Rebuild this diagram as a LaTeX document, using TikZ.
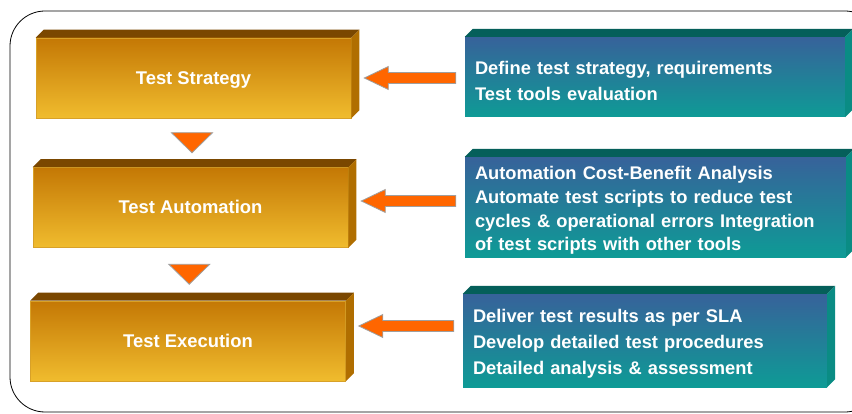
\documentclass[tikz,border=0pt]{standalone}
\usepackage{fontspec}
\setmainfont{Liberation Sans}
\usetikzlibrary{calc}

\definecolor{goldtop}{HTML}{C47805}
\definecolor{goldmid}{HTML}{DE9E1C}
\definecolor{goldbot}{HTML}{F0BC2E}
\definecolor{goldedge}{HTML}{D8A128}
\definecolor{goldlid}{HTML}{7A4700}
\definecolor{goldside}{HTML}{B06E00}
\definecolor{bluetop}{HTML}{37629A}
\definecolor{bluebot}{HTML}{0E9B96}
\definecolor{bluelid}{HTML}{055F5A}
\definecolor{blueside}{HTML}{0A8C84}
\definecolor{arroworange}{HTML}{FF6600}

\tikzset{
  goldbox/.style={minimum width=315pt, minimum height=80pt, inner sep=0pt,
    text height=13pt, text depth=0pt,
    top color=goldtop, middle color=goldmid, bottom color=goldbot,
    draw=goldedge, line width=0.6pt, text=white,
    font=\bfseries\fontsize{18.4}{22}\selectfont},
  bluebox/.style={minimum height=80pt, inner xsep=10pt, inner ysep=0pt,
    align=left, top color=bluetop, bottom color=bluebot, text=white,
    execute at begin node={\rule{0pt}{20.5pt}},
    font=\bfseries\fontsize{18.3}{26}\selectfont},
  goldlidface/.style={fill=goldlid},
  goldsideface/.style={fill=goldside},
  bluelidface/.style={fill=bluelid},
  bluesideface/.style={fill=blueside},
  fatarrow/.style={fill=arroworange, draw=gray!75, line width=0.8pt},
}

\begin{document}
\begin{tikzpicture}[x=1pt,y=1pt]
                \useasboundingbox (0,0) rectangle (852,413);
                \draw[line width=0.8pt, rounded corners=35pt] (10,1) rectangle (880,402);

                \node[goldbox] (g1) at (193.5,335) {Test Strategy};
                \node[goldbox] (g2) at (190.5,205.5) {Test Automation};
                \node[goldbox] (g3) at (188,72) {Test Execution};

                \node[bluebox, text width=360pt] (b1) at (655,336)
                    {Define test strategy, requirements\\Test tools evaluation};
                \node[bluebox, text width=361pt, minimum height=100pt,
                    font=\bfseries\fontsize{18.3}{23.7}\selectfont] (b2) at (655.5,206)
                    {Automation Cost-Benefit Analysis\\Automate test scripts to reduce test\\cycles \& operational errors Integration\\of test scripts with other tools};
                \node[bluebox, text width=344pt, minimum height=93pt] (b3) at (645,72.5)
                    {Deliver test results as per SLA\\Develop detailed test procedures\\Detailed analysis \& assessment};

                \foreach \b/\lid/\side in {g1/goldlidface/goldsideface, g2/goldlidface/goldsideface,
                    g3/goldlidface/goldsideface, b1/bluelidface/bluesideface,
                    b2/bluelidface/bluesideface, b3/bluelidface/bluesideface}{
                    \fill[\lid] (\b.north west) -- ++(8,8) -- ($(\b.north east)+(8,8)$) -- (\b.north east) -- cycle;
                    \fill[\side] (\b.north east) -- ++(8,8) -- ($(\b.south east)+(8,8)$) -- (\b.south east) -- cycle;
                }

                \coordinate (t1) at ($(g1.south)!0.5!(g2.north)$);
                \coordinate (t2) at ($(g2.south)!0.5!(g3.north)$);
                \foreach \t in {t1,t2}
                    \filldraw[fatarrow] (\t)+(-20.5,10) -- +(20.5,10) -- +(0,-10) -- cycle;

                \foreach \g/\b/\dy in {g1/b1/0, g2/b2/6.5, g3/b3/15}{
                    \coordinate (tip) at ($(\g.east)+(13,\dy)$);
                    \coordinate (tail) at ($(\b.west |- tip)+(-9,0)$);
                    \filldraw[fatarrow] (tip) -- ++(24,11.5) -- ++(0,-6) -- (tail |- {$(tip)+(0,5.5)$})
                        -- (tail |- {$(tip)+(0,-5.5)$}) -- ($(tip)+(24,-5.5)$) -- ++(0,-6) -- cycle;
                }
            \end{tikzpicture}
\end{document}
